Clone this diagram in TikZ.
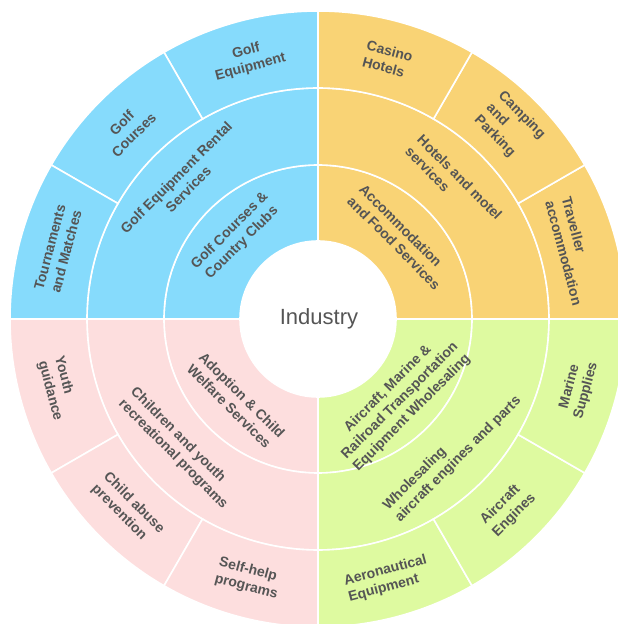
\documentclass[tikz,border=0pt]{standalone}
\usepackage{fontspec}
\setmainfont{Liberation Sans}
\definecolor{cblue}{HTML}{86DBFC}
\definecolor{cyell}{HTML}{F9D375}
\definecolor{cpink}{HTML}{FDDEDE}
\definecolor{cgreen}{HTML}{DEFAA0}
\definecolor{ctext}{HTML}{555555}
\newcommand\annsec[5]{\filldraw[fill=#1] (#2:#4) arc[start angle=#2,end angle=#3,radius=#4] -- (#3:#5) arc[start angle=#3,end angle=#2,radius=#5] -- cycle;}
\tikzset{
  lbl/.style={text=ctext, font=\fontsize{14}{17}\selectfont\bfseries, inner sep=0pt},
  lc/.style={lbl, align=center},
  ll/.style={lbl, align=left},
}
\begin{document}
\begin{tikzpicture}[x=1pt,y=1pt]
\useasboundingbox (0,0) rectangle (618,624);
\begin{scope}[shift={(318,305)}, draw=white, line width=1.6pt]
% ring 1 and ring 2
\annsec{cyell}{0}{90}{78}{154}
\annsec{cblue}{90}{180}{78}{154}
\annsec{cpink}{180}{270}{78}{154}
\annsec{cgreen}{270}{360}{78}{154}
\annsec{cyell}{0}{90}{154}{231}
\annsec{cblue}{90}{180}{154}{231}
\annsec{cpink}{180}{270}{154}{231}
\annsec{cgreen}{270}{360}{154}{231}
% ring 3
\annsec{cyell}{0}{30}{231}{308}
\annsec{cyell}{30}{60}{231}{308}
\annsec{cyell}{60}{90}{231}{308}
\annsec{cblue}{90}{120}{231}{308}
\annsec{cblue}{120}{150}{231}{308}
\annsec{cblue}{150}{180}{231}{308}
\annsec{cpink}{180}{210}{231}{308}
\annsec{cpink}{210}{240}{231}{308}
\annsec{cpink}{240}{270}{231}{308}
\annsec{cgreen}{270}{300}{231}{308}
\annsec{cgreen}{300}{330}{231}{308}
\annsec{cgreen}{330}{360}{231}{308}

\node[text=ctext, font=\fontsize{22}{25}\selectfont] (ind) at (1,0) {Industry};

% blue
\node[lc, rotate=45] (b1) at (135:116) {Golf Courses \&\\Country Clubs};
\node[lc, rotate=45] (b2) at (135:192) {Golf Equipment Rental\\Services};
\node[lc, rotate=15] (b3a) at (105:269) {Golf\\Equipment};
\node[lc, rotate=45] (b3b) at (135:269) {Golf\\Courses};
\node[lc, rotate=75] (b3c) at (165:269) {Tournaments\\and Matches};
% yellow
\node[ll, rotate=-45] (y1) at (45:116) {Accommodation\\and Food Services};
\node[ll, rotate=-45] (y2) at (45:192) {Hotels and motel\\services};
\node[ll, rotate=-15] (y3a) at (75:269) {Casino\\Hotels};
\node[ll, rotate=-45] (y3b) at (45:271) {Camping\\and\\Parking};
\node[ll, rotate=-75] (y3c) at (15:263) {Traveller\\accommodation};
% pink
\node[ll, rotate=-45] (p1) at (225:116) {Adoption \& Child\\Welfare Services};
\node[ll, rotate=-45] (p2) at (223:190) {Children and youth\\recreational programs};
\node[ll, rotate=-75] (p3a) at (195:269) {Youth\\guidance};
\node[ll, rotate=-45] (p3b) at (225:269) {Child abuse\\prevention};
\node[ll, rotate=-15] (p3c) at (255:269) {Self-help\\programs};
% green
\node[lc, rotate=45] (g1) at (315:116) {Aircraft, Marine \&\\Railroad Transportation\\Equipment Wholesaling};
\node[ll, rotate=45] (g2) at (315:190) {Wholesaling\\aircraft engines and parts};
\node[ll, rotate=15] (g3a) at (285:269) {Aeronautical\\Equipment};
\node[ll, rotate=45] (g3b) at (315:269) {Aircraft\\Engines};
\node[lc, rotate=75] (g3c) at (345:269) {Marine\\Supplies};
\end{scope}
\end{tikzpicture}
\end{document}
